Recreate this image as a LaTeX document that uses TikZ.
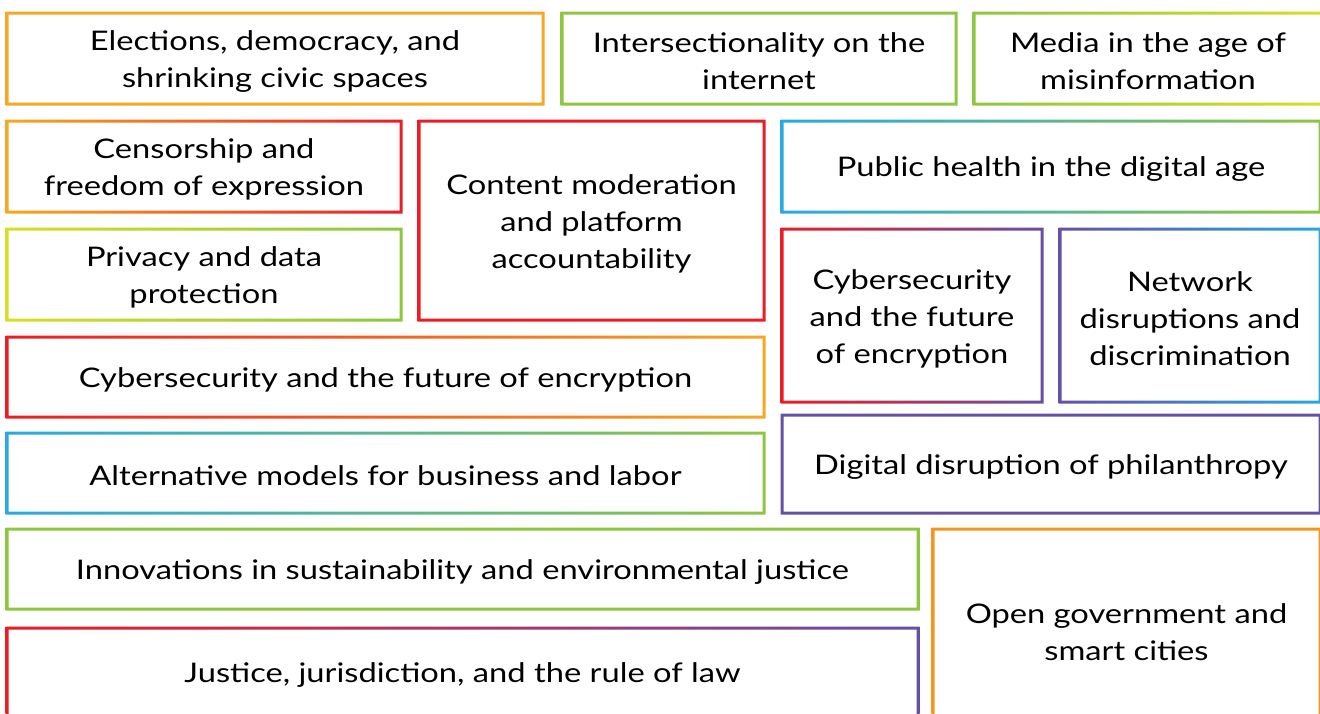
\documentclass[tikz,border=0pt]{standalone}
\usepackage{fontspec}
\setmainfont{Lato}[FakeStretch=1.21]
\usepackage{tikz}

\definecolor{tOrange}{HTML}{F7A823}
\definecolor{tOrangeB}{HTML}{F7941D}
\definecolor{tGreen}{HTML}{8DC63F}
\definecolor{tRed}{HTML}{ED1C24}
\definecolor{tBlue}{HTML}{27AAE1}
\definecolor{tPurple}{HTML}{6650A4}
\definecolor{tYellow}{HTML}{D7DF23}

% frame of a topic box, shaded from left colour to right colour
% (raised 3pt, as the topic text sits 3pt low in its box)
\newcommand{\topicframe}[3]{%
  \shade[left color=#2,right color=#3,even odd rule]
    ([shift={(-1.5pt,1.5pt)}]#1.south west) rectangle ([shift={(1.5pt,4.5pt)}]#1.north east)
    ([shift={(1.5pt,4.5pt)}]#1.south west) rectangle ([shift={(-1.5pt,1.5pt)}]#1.north east);}

\begin{document}
\begin{tikzpicture}[x=1pt,y=-1pt,
  topic/.style={align=center,inner sep=0pt,outer sep=0pt,yshift=-3pt,
    font=\fontsize{27}{37}\selectfont}]
\useasboundingbox (0,0) rectangle (1320,713);
\fill[white] (0,0) rectangle (1320,713);

\node[topic,minimum width=536,minimum height=91] (elect) at (275,58.5) {Elections, democracy, and\\shrinking civic spaces};
\node[topic,minimum width=394,minimum height=91] (inter) at (759,58.5) {Intersectionality on the\\internet};
\node[topic,minimum width=348,minimum height=91] (media) at (1148,58.5) {Media in the age of\\misinformation};
\node[topic,minimum width=394,minimum height=91] (censor) at (204,166.5) {Censorship and\\freedom of expression};
\node[topic,minimum width=345,minimum height=199] (content) at (591.5,220.5) {Content moderation\\and platform\\accountability};
\node[topic,minimum width=538,minimum height=91] (health) at (1051,166.5) {Public health in the digital age};
\node[topic,minimum width=394,minimum height=91] (privacy) at (204,274.5) {Privacy and data\\protection};
\node[topic,minimum width=260,minimum height=173] (cyberA) at (912,315.5) {Cybersecurity\\and the future\\of encryption};
\node[topic,minimum width=260,minimum height=173] (network) at (1190,315.5) {Network\\disruptions and\\discrimination};
\node[topic,minimum width=757,minimum height=80] (cyberB) at (385.5,377) {Cybersecurity and the future of encryption};
\node[topic,minimum width=757,minimum height=80] (altmod) at (385.5,473) {Alternative models for business and labor};
\node[topic,minimum width=538,minimum height=98] (philan) at (1051,464) {Digital disruption of philanthropy};
\node[topic,minimum width=911,minimum height=80] (sustain) at (462.5,569) {Innovations in sustainability and environmental justice};
\node[topic,minimum width=387,minimum height=200] (opengov) at (1126.5,629) {Open government and\\smart cities};
\node[topic,minimum width=911,minimum height=88] (justice) at (462.5,672) {Justice, jurisdiction, and the rule of law};

\topicframe{elect}{tOrange}{tOrange}
\topicframe{inter}{tGreen}{tGreen}
\topicframe{media}{tGreen}{tYellow}
\topicframe{censor}{tOrange}{tRed}
\topicframe{content}{tRed}{tRed}
\topicframe{health}{tBlue}{tGreen}
\topicframe{privacy}{tYellow}{tGreen}
\topicframe{cyberA}{tRed}{tPurple}
\topicframe{network}{tPurple}{tBlue}
\topicframe{cyberB}{tRed}{tOrange}
\topicframe{altmod}{tBlue}{tGreen}
\topicframe{philan}{tPurple}{tPurple}
\topicframe{sustain}{tGreen}{tGreen}
\topicframe{opengov}{tOrangeB}{tOrangeB}
\topicframe{justice}{tRed}{tPurple}
\end{tikzpicture}
\end{document}
